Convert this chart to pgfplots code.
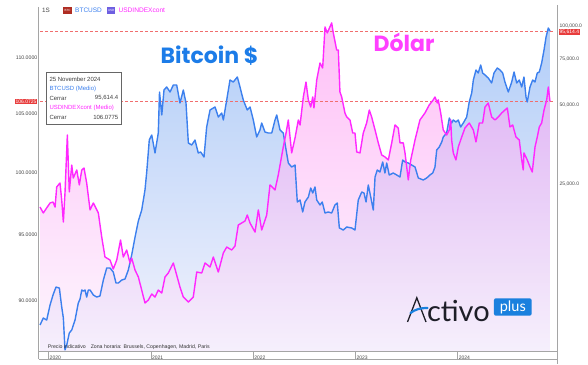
\documentclass[border=0pt]{standalone}
\usepackage{pgfplots}
\pgfplotsset{compat=1.18}
\usepackage{pgfplotstable}
\usepackage{fontspec}
\setmainfont{Liberation Sans}
\newfontfamily\pop{Poppins}
\newfontfamily\logofont{Lato}

\definecolor{btcline}{RGB}{60,128,238}
\definecolor{usdline}{RGB}{255,40,255}
\definecolor{btcfill}{RGB}{178,206,248}
\definecolor{btcbot}{RGB}{242,242,252}
\definecolor{usdfill}{RGB}{255,140,240}
\definecolor{usdbot}{RGB}{250,238,252}
\definecolor{bitcointxt}{RGB}{28,124,232}
\definecolor{dolartxt}{RGB}{255,64,255}
\definecolor{lbl}{RGB}{70,70,70}
\definecolor{curred}{RGB}{232,60,60}
\definecolor{salmonline}{RGB}{240,110,110}
\definecolor{framec}{RGB}{165,165,165}
\definecolor{logoblue}{RGB}{26,128,222}
\definecolor{logotxt}{RGB}{30,30,40}
\definecolor{iconred}{RGB}{175,45,35}
\definecolor{iconviolet}{RGB}{110,95,225}

\pgfplotstableread{
t v
2019.917 97.22
2019.949 96.75
2019.982 97.15
2020.015 97.55
2020.044 97.63
2020.064 97.22
2020.080 98.85
2020.112 99.17
2020.129 97.79
2020.145 96.03
2020.161 98.36
2020.184 103.17
2020.203 98.44
2020.227 100.65
2020.242 99.58
2020.276 100.24
2020.301 99.01
2020.325 100.24
2020.347 100.40
2020.373 99.17
2020.406 96.99
2020.438 97.55
2020.487 96.75
2020.520 94.85
2020.552 93.30
2020.601 93.07
2020.633 92.38
2020.667 93.07
2020.704 94.62
2020.731 93.30
2020.764 93.84
2020.797 92.84
2020.813 93.22
2020.846 92.30
2020.878 91.78
2020.911 90.79
2020.943 89.83
2020.976 90.05
2021.009 90.50
2021.041 90.27
2021.073 90.79
2021.107 90.57
2021.139 91.78
2021.171 92.08
2021.220 92.84
2021.253 91.92
2021.285 91.02
2021.318 90.27
2021.367 89.90
2021.415 90.27
2021.449 92.15
2021.498 92.08
2021.530 92.84
2021.579 92.53
2021.611 93.30
2021.660 92.15
2021.709 93.61
2021.742 94.07
2021.791 93.84
2021.823 94.15
2021.855 95.79
2021.921 96.11
2021.943 96.59
2021.970 95.95
2022.019 95.24
2022.051 96.99
2022.084 95.40
2022.133 96.59
2022.165 99.01
2022.214 98.60
2022.246 99.83
2022.295 102.16
2022.322 103.34
2022.344 104.46
2022.377 101.66
2022.410 102.92
2022.442 104.46
2022.459 104.03
2022.491 106.46
2022.517 107.78
2022.540 106.20
2022.563 105.58
2022.583 106.46
2022.595 105.50
2022.622 107.96
2022.654 109.48
2022.680 109.03
2022.703 112.78
2022.725 112.23
2022.768 113.16
2022.784 112.23
2022.817 110.66
2022.833 110.66
2022.849 106.90
2022.866 106.46
2022.898 105.06
2022.915 104.72
2022.947 104.46
2022.974 103.34
2022.996 103.34
2023.013 101.74
2023.045 101.66
2023.077 103.34
2023.110 104.20
2023.136 105.32
2023.159 104.72
2023.192 103.60
2023.224 102.50
2023.257 101.49
2023.289 101.32
2023.322 101.07
2023.355 102.50
2023.387 104.03
2023.419 103.77
2023.436 102.50
2023.468 102.50
2023.485 101.66
2023.517 99.42
2023.541 101.07
2023.583 102.75
2023.631 104.46
2023.680 105.06
2023.722 105.76
2023.761 106.20
2023.778 106.46
2023.801 105.93
2023.810 106.20
2023.834 105.06
2023.859 103.60
2023.892 103.17
2023.918 103.60
2023.932 104.46
2023.941 102.75
2023.957 101.66
2023.983 101.07
2024.006 102.16
2024.039 103.00
2024.071 103.77
2024.113 104.20
2024.153 103.60
2024.179 102.58
2024.211 104.20
2024.244 104.20
2024.267 105.58
2024.299 105.93
2024.332 104.72
2024.365 104.46
2024.397 104.72
2024.430 105.06
2024.462 105.32
2024.485 105.50
2024.511 103.86
2024.538 104.03
2024.570 103.00
2024.602 102.75
2024.626 101.07
2024.641 100.24
2024.648 101.66
2024.680 101.07
2024.707 100.49
2024.729 100.07
2024.756 102.16
2024.778 103.00
2024.798 103.86
2024.821 104.20
2024.844 105.32
2024.870 106.20
2024.886 107.34
2024.902 106.08
}\usd

\pgfplotstableread{
t v
2019.917 7220
2019.949 7680
2019.982 7540
2020.015 8610
2020.044 9400
2020.073 10080
2020.106 9990
2020.129 8460
2020.145 7680
2020.161 5800
2020.178 6055
2020.203 6730
2020.227 6910
2020.259 7540
2020.291 8760
2020.308 9070
2020.325 9820
2020.340 9730
2020.357 9820
2020.373 9230
2020.389 9820
2020.406 9820
2020.438 9400
2020.471 9230
2020.503 9320
2020.536 10720
2020.569 11920
2020.601 11920
2020.633 11500
2020.660 10440
2020.682 10440
2020.716 10720
2020.748 10820
2020.780 11710
2020.813 13360
2020.846 15650
2020.878 18010
2020.911 19840
2020.943 23650
2020.960 27710
2020.985 36710
2021.009 38360
2021.041 32750
2021.073 39040
2021.085 55980
2021.107 45730
2021.129 56980
2021.155 58500
2021.188 55980
2021.220 59540
2021.253 59540
2021.285 50820
2021.318 56980
2021.344 50820
2021.367 35750
2021.400 35130
2021.432 36710
2021.464 32750
2021.488 33040
2021.520 31610
2021.546 41150
2021.579 47790
2021.628 49070
2021.660 44930
2021.693 46540
2021.709 43760
2021.742 52170
2021.774 62210
2021.806 61120
2021.846 63870
2021.872 58500
2021.904 52170
2021.943 47790
2021.970 49070
2022.002 43760
2022.035 37690
2022.067 40080
2022.084 42620
2022.116 39380
2022.149 39040
2022.182 39040
2022.214 43760
2022.231 45730
2022.263 40080
2022.295 39040
2022.344 29990
2022.377 28950
2022.410 29470
2022.432 21290
2022.459 21660
2022.485 19500
2022.507 21290
2022.540 22240
2022.563 24070
2022.583 23040
2022.605 24290
2022.622 21660
2022.654 20730
2022.676 21290
2022.703 19320
2022.735 19500
2022.768 19320
2022.800 20730
2022.823 21100
2022.843 16940
2022.882 16640
2022.915 17090
2022.964 16940
2022.996 16640
2023.028 21660
2023.062 23240
2023.084 23040
2023.104 21290
2023.126 24720
2023.150 22240
2023.175 19840
2023.192 26520
2023.214 28200
2023.240 27710
2023.267 30260
2023.289 27470
2023.306 29990
2023.331 26990
2023.370 27470
2023.404 26990
2023.436 26520
2023.462 30790
2023.485 30260
2023.517 29990
2023.550 29470
2023.583 28950
2023.615 26290
2023.664 25830
2023.697 26290
2023.729 26990
2023.756 27470
2023.778 28950
2023.795 33620
2023.820 34520
2023.844 36070
2023.859 37690
2023.892 39040
2023.918 44540
2023.941 42620
2023.957 43760
2023.983 43000
2024.006 43760
2024.029 41150
2024.055 42620
2024.088 44930
2024.113 51270
2024.137 55490
2024.153 62210
2024.179 67920
2024.201 66160
2024.225 70980
2024.244 66160
2024.267 65010
2024.299 63310
2024.332 60590
2024.355 66160
2024.387 69130
2024.414 67920
2024.440 66160
2024.462 61120
2024.495 55980
2024.528 61120
2024.551 66740
2024.577 60590
2024.602 62210
2024.626 58500
2024.648 63870
2024.668 53580
2024.680 51270
2024.707 58500
2024.733 62210
2024.756 61120
2024.778 66160
2024.798 66740
2024.821 72240
2024.844 80980
2024.864 90780
2024.886 98260
2024.902 95610
}\btc

\begin{document}
\begin{tikzpicture}
\useasboundingbox (-38.5pt,-13pt) rectangle (549.5pt,351pt);

% 1: BTC area, right-hand ticks, date ticks
\begin{axis}[
  scale only axis, width=518.5pt, height=346pt,
  xmin=2019.902, xmax=2024.971,
  ymode=log, log origin y=infty,
  ymin=5746, ymax=120270,
  axis line style={draw=none},
  ytick={25000,50000,75000,100000},
  yticklabels={{25,000.0},{50,000.0},{75,000.0},{100,000.0}},
  ytick pos=right, yticklabel pos=right,
  ytick style={draw=none},
  yticklabel style={font=\fontsize{5}{6}\selectfont, text=lbl, inner sep=1pt, xshift=1.5pt},
  xtick={2020,2021,2022,2023,2024},
  xticklabels={2020,2021,2022,2023,2024},
  xtick pos=bottom, xtick align=outside, major tick length=8pt,
  xtick style={draw=framec, line width=0.6pt},
  xticklabel style={font=\fontsize{5}{6}\selectfont, text=lbl, anchor=west, inner sep=1pt, yshift=1pt},
]
\addplot[draw=none, top color=btcfill, bottom color=btcbot] table[x=t,y=v]{\btc} \closedcycle;
\end{axis}

% 2: USD area, left-hand ticks
\begin{axis}[
  scale only axis, width=518.5pt, height=346pt,
  xmin=2019.902, xmax=2024.971,
  ymode=log, log origin y=infty,
  ymin=86.35, ymax=114.85,
  axis line style={draw=none},
  ytick={90,95,100,105,110},
  yticklabels={90.0000,95.0000,100.0000,105.0000,110.0000},
  ytick pos=left, ytick style={draw=none},
  yticklabel style={font=\fontsize{5.2}{6}\selectfont, text=lbl, inner sep=1pt},
  xtick=\empty,
]
\addplot[draw=none, top color=usdfill, bottom color=usdbot, fill opacity=0.55] table[x=t,y=v]{\usd} \closedcycle;
\end{axis}

% current-value guide lines (BTC 95,614.4 and USD index 106.0725), drawn as short solid dashes
\begin{scope}[x=1pt, y=-1pt, shift={(-38.5pt,351pt)}]
  \foreach \d in {40,45,...,552} {
    \fill[salmonline] (\d,30.9) rectangle ++(2.6,1.0);
    \fill[salmonline] (\d,101.1) rectangle ++(2.6,1.0);
  }
\end{scope}

% 3: BTC line
\begin{axis}[
  scale only axis, width=518.5pt, height=346pt,
  xmin=2019.902, xmax=2024.971,
  ymode=log, ymin=5746, ymax=120270, hide axis, no marks]
\addplot[color=btcline, line width=1.4pt, line join=round] table[x=t,y=v]{\btc};
\end{axis}

% 4: USD line
\begin{axis}[
  scale only axis, width=518.5pt, height=346pt,
  xmin=2019.902, xmax=2024.971,
  ymode=log, ymin=86.35, ymax=114.85, hide axis, no marks]
\addplot[color=usdline, line width=1.4pt, line join=round] table[x=t,y=v]{\usd};
\end{axis}

% annotations, in picture pixels (y downwards)
\begin{scope}[x=1pt, y=-1pt, shift={(-38.5pt,351pt)}]
  % frame
  \draw[framec, line width=1.5pt] (38.5,7) -- (38.5,359.3);
  \draw[framec, line width=1.2pt] (557.3,5) -- (557.3,364);
  \draw[framec, line width=0.6pt] (38.5,351.3) -- (557.3,351.3);
  \draw[framec, line width=0.6pt] (38.5,359) -- (557.3,359);
  % current values
  \node[fill=curred, text=white, inner sep=0.9pt, font=\fontsize{5}{6}\selectfont, anchor=east] at (37.5,101.3) {106.0725};
  \node[fill=curred, text=white, inner sep=0.9pt, font=\fontsize{5}{6}\selectfont, anchor=west] at (558.5,32) {95,614.4};
  % header legend
  \node[anchor=west, inner sep=0, font=\fontsize{6.3}{7}\selectfont, text=lbl] at (42,10) {1S};
  \node[fill=iconred, text=white, inner sep=0, minimum width=8.5pt, minimum height=6.5pt, font=\fontsize{3}{3}\selectfont] at (67.5,10.3) {BTC};
  \node[anchor=west, inner sep=0, font=\fontsize{6.5}{7}\selectfont, text=btcline] at (75,10) {BTCUSD};
  \node[fill=iconviolet, text=white, inner sep=0, minimum width=8pt, minimum height=6.5pt, font=\fontsize{3}{3}\selectfont] at (111.2,10.3) {USD};
  \node[anchor=west, inner sep=0, font=\fontsize{6.6}{7}\selectfont, text=usdline] at (118.3,10) {USDINDEXcont};
  % titles
  \node[anchor=base west, inner sep=0, text=bitcointxt, font=\pop\bfseries\fontsize{22}{24}\selectfont] at (160.5,63.5) {Bitcoin \$};
  \node[anchor=base west, inner sep=0, text=dolartxt, font=\pop\bfseries\fontsize{22}{24}\selectfont] at (373.5,51.7) {Dólar};
  % tooltip
  \draw[fill=white, draw=black!60, line width=0.7pt] (46,72) rectangle (121.5,124);
  \begin{scope}[every node/.style={inner sep=0, font=\fontsize{6}{7}\selectfont}]
    \node[anchor=west, text=black!75] at (49.3,79) {25 November 2024};
    \node[anchor=west, text=btcline] at (49.3,89) {BTCUSD (Medio)};
    \node[anchor=west, text=black!75] at (49.3,98) {Cerrar};
    \node[anchor=east, text=black!75] at (118.5,98) {95,614.4};
    \node[anchor=west, text=usdline] at (49.3,107.7) {USDINDEXcont (Medio)};
    \node[anchor=west, text=black!75] at (49.3,117) {Cerrar};
    \node[anchor=east, text=black!75] at (118.5,117) {106.0775};
  \end{scope}
  % footer note
  \node[anchor=west, inner sep=0, font=\fontsize{5.2}{6}\selectfont, text=black!80] at (47.7,347.3) {Precio indicativo\hspace{5pt}Zona horaria: Brussels, Copenhagen, Madrid, Paris};
  % logo: A drawn as a chevron with a blue swoosh, then the rest of the word
  \draw[logotxt, line width=1.3pt, line join=miter] (407.5,322) -- (416.8,297.8) -- (426,322);
  \draw[logoblue, line width=2.2pt, line cap=round] (410.5,313) .. controls (415,309.5) and (420,308) .. (427.5,308);
  \node[anchor=base west, inner sep=0, text=logotxt, font=\logofont\fontsize{29}{32}\selectfont] at (426.8,321.8) {ctivo};
  \node[fill=logoblue, rounded corners=2pt, text=white, inner sep=0, minimum width=37.7pt, minimum height=17.4pt, font=\logofont\fontsize{14.5}{15}\selectfont] at (512.8,307) {plus};
\end{scope}
\end{tikzpicture}
\end{document}
